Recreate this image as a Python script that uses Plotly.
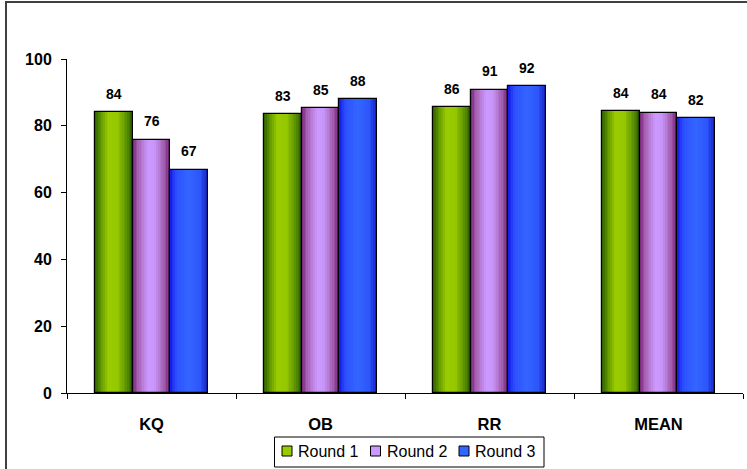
import plotly.graph_objects as go

categories = ["KQ", "OB", "RR", "MEAN"]
series_names = ["Round 1", "Round 2", "Round 3"]
round1 = [84.0, 83.4, 85.6, 84.3]
round2 = [75.8, 85.2, 90.8, 83.9]
round3 = [66.9, 88.0, 91.8, 82.3]
y_ticks = [0, 20, 40, 60, 80, 100]

series_values = [round1, round2, round3]

# gradient stops (position, rgb) per series
gradients = [
    [(0.0, (38, 88, 0)), (0.12, (80, 135, 0)), (0.35, (153, 204, 0)),
     (0.6, (150, 200, 0)), (0.85, (90, 145, 0)), (1.0, (45, 95, 0))],
    [(0.0, (115, 30, 118)), (0.15, (165, 95, 175)), (0.42, (204, 153, 255)),
     (0.6, (200, 150, 250)), (0.85, (160, 90, 170)), (1.0, (120, 35, 125))],
    [(0.0, (20, 25, 230)), (0.18, (45, 80, 255)), (0.5, (51, 102, 255)),
     (0.8, (45, 85, 250)), (1.0, (20, 35, 200))],
]
mid_colors = ["#99cc00", "#cc99ff", "#3366ff"]


def interp(stops, t):
    for (p0, c0), (p1, c1) in zip(stops[:-1], stops[1:]):
        if p0 <= t <= p1:
            f = 0 if p1 == p0 else (t - p0) / (p1 - p0)
            c = [round(a + (b - a) * f) for a, b in zip(c0, c1)]
            return f"rgb({c[0]},{c[1]},{c[2]})"
    c = stops[-1][1]
    return f"rgb({c[0]},{c[1]},{c[2]})"


W, H = 747, 469
ML, MR, MT, MB = 67, 4, 59, 76
plot_w = W - ML - MR
plot_h = H - MT - MB
group_w = 0.668
bar_w = group_w / 3
N = 22
slice_w = bar_w / N


def px_x(px):
    return (px - ML) / plot_w


def px_y(py):
    return (H - MB - py) / plot_h


fig = go.Figure()
for i, (name, vals) in enumerate(zip(series_names, series_values)):
    off = -group_w / 2 + i * bar_w
    fig.add_trace(go.Bar(
        x=categories, y=vals, name=name, width=bar_w, offset=off,
        marker=dict(color=mid_colors[i], line=dict(color="black", width=1)),
        showlegend=False, hoverinfo="skip"))
    for k in range(N):
        t = (k + 0.5) / N
        fig.add_trace(go.Bar(
            x=categories, y=vals, width=min(slice_w * 1.15, bar_w - k * slice_w),
            offset=off + k * slice_w,
            marker=dict(color=interp(gradients[i], t), line=dict(width=0)),
            showlegend=False, hoverinfo="skip"))
    fig.add_trace(go.Bar(
        x=categories, y=vals, width=bar_w, offset=off,
        marker=dict(color="rgba(0,0,0,0)", line=dict(color="black", width=1.2)),
        showlegend=False, hoverinfo="skip"))

annotations = []
px_per_cat = plot_w / len(categories)
for i, vals in enumerate(series_values):
    xs = (i - 1) * bar_w * px_per_cat
    for c, v in zip(categories, vals):
        annotations.append(dict(
            x=c, y=v, xref="x", yref="y", text=f"<b>{v:.0f}</b>", showarrow=False,
            xshift=xs, yshift=18.5, yanchor="middle",
            font=dict(family="Arial", size=14, color="black")))

# custom compact legend
shapes = [dict(
    type="rect", xref="paper", yref="paper",
    x0=px_x(6), x1=1.2, y0=-0.5, y1=px_y(2),
    line=dict(color="#404040", width=2), fillcolor="rgba(0,0,0,0)",
    layer="below")]
shapes.append(dict(
    type="rect", xref="paper", yref="paper",
    x0=px_x(274.5), x1=px_x(544), y0=px_y(467), y1=px_y(437),
    line=dict(color="black", width=1), fillcolor="white"))
leg_start = 282
leg_step = 88.5
for i, name in enumerate(series_names):
    sx = leg_start + i * leg_step
    shapes.append(dict(
        type="rect", xref="paper", yref="paper",
        x0=px_x(sx), x1=px_x(sx + 10), y0=px_y(456), y1=px_y(446),
        line=dict(color="black", width=1), fillcolor=mid_colors[i]))
    annotations.append(dict(
        x=px_x(sx + 14), y=px_y(451.5), xref="paper", yref="paper",
        text=name, showarrow=False, xanchor="left", yanchor="middle",
        font=dict(family="Arial", size=16, color="black")))

fig.update_layout(
    width=W, height=H,
    margin=dict(l=ML, r=MR, t=MT, b=MB),
    paper_bgcolor="white", plot_bgcolor="white",
    barmode="overlay",
    bargap=0,
    annotations=annotations,
    shapes=shapes,
    showlegend=False,
    font=dict(family="Arial", color="black"),
    xaxis=dict(
        type="category", range=[-0.5, 3.5], showline=True, linecolor="black",
        linewidth=1, ticks="outside", tickson="boundaries", ticklen=5,
        tickcolor="black", showgrid=False, zeroline=False,
        tickfont=dict(family="Arial", size=16.5, color="black", weight="bold"),
        ticklabelstandoff=16,
    ),
    yaxis=dict(
        range=[0, 100], tickvals=y_ticks,
        ticktext=[f"<b>{t}</b>" for t in y_ticks],
        showline=True, linecolor="black",
        linewidth=1, ticks="outside", ticklen=5, tickcolor="black",
        showgrid=False, zeroline=False,
        tickfont=dict(family="Arial", size=16, color="black"),
        ticklabelstandoff=6,
    ),
)

fig.write_html("out.html")
